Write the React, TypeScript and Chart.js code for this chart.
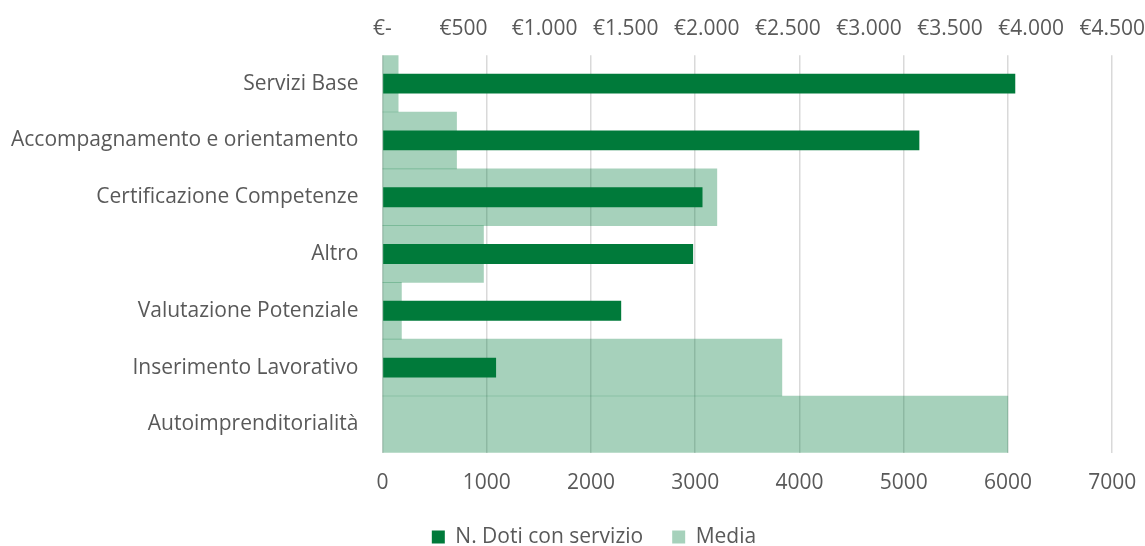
import React, { useEffect, useRef } from "react";
import { Chart, registerables } from "chart.js";

Chart.register(...registerables);

const categories = [
  "Servizi Base",
  "Accompagnamento e orientamento",
  "Certificazione Competenze",
  "Altro",
  "Valutazione Potenziale",
  "Inserimento Lavorativo",
  "Autoimprenditorialità",
];
const dotiValues = [6070, 5150, 3070, 2980, 2290, 1090, 0];
const mediaValues = [97, 457, 2062, 623, 117, 2463, 3856];

const FONT = "'Open Sans', sans-serif";
const TEXT = "#595959";
const FS = 21;
const LEGEND_SHIFT = 28;

function euro(v: number): string {
  if (v === 0) return "€-";
  return "€" + String(Math.round(v)).replace(/\B(?=(\d{3})+(?!\d))/g, ".");
}

const legendShift = {
  id: "legendShift",
  afterLayout(chart: any) {
    const l = chart.legend;
    if (l) {
      l.left += LEGEND_SHIFT;
      l.right += LEGEND_SHIFT;
    }
  },
};

export default function App() {
  const ref = useRef<HTMLCanvasElement | null>(null);
  useEffect(() => {
    if (!ref.current) return;
    const chart = new Chart(ref.current, {
      type: "bar",
      data: {
        labels: categories,
        datasets: [
          {
            label: "N. Doti con servizio",
            data: dotiValues,
            backgroundColor: "#007A3A",
            xAxisID: "x",
            grouped: false,
            barPercentage: 0.35,
            categoryPercentage: 1,
          },
          {
            label: "Media",
            data: mediaValues,
            backgroundColor: "rgba(0,122,61,0.35)",
            xAxisID: "x2",
            grouped: false,
            barPercentage: 1,
            categoryPercentage: 1,
          },
        ],
      },
      plugins: [legendShift],
      options: {
        indexAxis: "y",
        responsive: false,
        animation: false,
        layout: { padding: { top: 16, bottom: -11.5, left: -13, right: 0 } },
        scales: {
          x: {
            position: "bottom",
            min: 0,
            max: 7000,
            ticks: {
              stepSize: 1000,
              color: TEXT,
              font: { family: FONT, size: FS },
              padding: 0,
              callback: (v: any) => String(v),
            },
            grid: {
              color: "#d9d9d9",
              lineWidth: 1.5,
              drawTicks: true,
              tickLength: 18,
              tickColor: "rgba(0,0,0,0)",
            },
            border: { display: false },
            title: { display: true, text: "", font: { size: 1 }, padding: { top: 0, bottom: 0.3 } },
          },
          x2: {
            position: "top",
            min: 0,
            max: 4500,
            ticks: {
              stepSize: 500,
              color: TEXT,
              font: { family: FONT, size: FS },
              padding: 0,
              callback: (v: any) => euro(Number(v)),
            },
            grid: { display: false, drawTicks: true, tickLength: 14 },
            border: { display: false },
          },
          y: {
            ticks: { color: TEXT, font: { family: FONT, size: FS }, padding: 24 },
            grid: { display: false, drawTicks: false },
            border: { display: false },
          },
        },
        plugins: {
          legend: {
            position: "bottom",
            labels: {
              color: TEXT,
              font: { family: FONT, size: FS },
              boxWidth: 13,
              boxHeight: 13,
              padding: 29,
            },
          },
          tooltip: { enabled: false },
        },
      },
    });
    return () => chart.destroy();
  }, []);
  return (
    <div style={{ position: "fixed", left: 0, top: 0, width: 1145, height: 546, background: "#fff" }}>
      <canvas ref={ref} width={1145} height={546} style={{ width: 1145, height: 546, display: "block" }} />
    </div>
  );
}
